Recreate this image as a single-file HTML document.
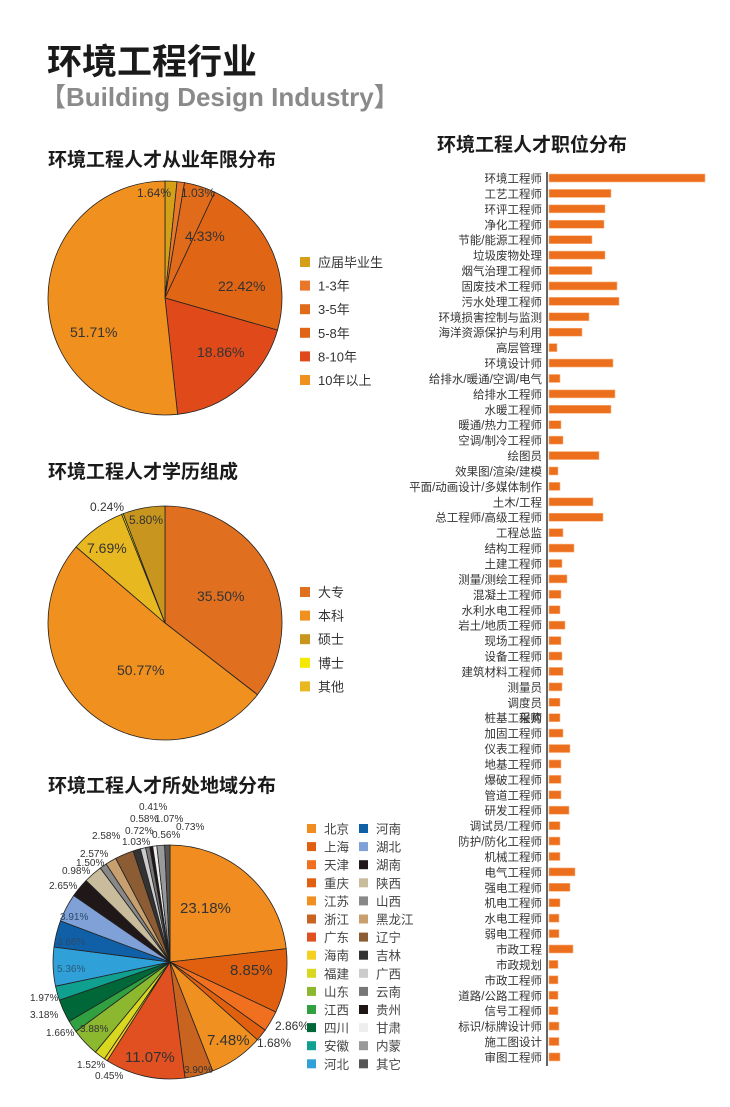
<!DOCTYPE html>
<html><head><meta charset="utf-8"><style>
body{margin:0;background:#fff;}
svg{display:block;font-family:"Liberation Sans","Noto Sans CJK SC",sans-serif;}
</style></head><body>
<svg id="s" width="730" height="1107" viewBox="0 0 730 1107" xmlns="http://www.w3.org/2000/svg">
<text x="47" y="74" font-size="35" font-weight="bold" fill="#1a1a1a">环境工程行业</text>
<text x="40" y="106" font-size="26" font-weight="bold" fill="#8a8a8a">【Building Design Industry】</text>
<text x="48" y="166" font-size="19" font-weight="bold" fill="#1a1a1a">环境工程人才从业年限分布</text>
<text x="48" y="478" font-size="19" font-weight="bold" fill="#1a1a1a">环境工程人才学历组成</text>
<text x="48" y="792" font-size="19" font-weight="bold" fill="#1a1a1a">环境工程人才所处地域分布</text>
<text x="437" y="151" font-size="19" font-weight="bold" fill="#1a1a1a">环境工程人才职位分布</text>
<line x1="547" y1="172" x2="547" y2="1066" stroke="#333" stroke-width="1.5"/>
<g id="g"></g>
</svg>
<script>
const g=document.getElementById('g');let h='';
function pie(cx,cy,r,data){let a=0;const tot=data.reduce((s,d)=>s+d[0],0);
for(const d of data){const a0=a,a1=a+d[0]/tot*2*Math.PI;a=a1;
const x0=cx+r*Math.sin(a0),y0=cy-r*Math.cos(a0),x1=cx+r*Math.sin(a1),y1=cy-r*Math.cos(a1);
h+=`<path d="M${cx},${cy}L${x0},${y0}A${r},${r} 0 ${a1-a0>Math.PI?1:0} 1 ${x1},${y1}Z" fill="${d[1]}" stroke="#222" stroke-width="0.8"/>`;}}
function t(x,y,s,fs,c,anchor){h+=`<text x="${x}" y="${y}" font-size="${fs}" fill="${c||'#333'}" ${anchor?'text-anchor="'+anchor+'"':''}>${s}</text>`;}
// pie1
pie(165,298,117,[[1.64,'#d4a017'],[1.03,'#e8772a'],[4.33,'#e06b1a'],[22.42,'#e06515'],[18.86,'#e04a1a'],[51.71,'#f0901f']]);
t(137,197,'1.64%',12);t(181,197,'1.03%',12);t(185,241,'4.33%',14);t(218,291,'22.42%',14);t(197,357,'18.86%',14);t(70,337,'51.71%',14);
[['应届毕业生','#d4a017'],['1-3年','#e8772a'],['3-5年','#e06b1a'],['5-8年','#e06515'],['8-10年','#e04a1a'],['10年以上','#f0901f']].forEach((d,i)=>{const y=257+i*23.6;h+=`<rect x="300" y="${y}" width="10" height="10" fill="${d[1]}"/>`;t(318,y+10,d[0],13);});
// pie2
pie(165,623,117,[[35.50,'#e07020'],[50.77,'#f0901f'],[7.69,'#e8b820'],[0.24,'#f5e800'],[5.80,'#c8961e']]);
t(197,601,'35.50%',14);t(117,675,'50.77%',14);t(87,553,'7.69%',14);t(90,511,'0.24%',12);t(129,524,'5.80%',12);
[['大专','#e07020'],['本科','#f0901f'],['硕士','#c8961e'],['博士','#f5e800'],['其他','#e8b820']].forEach((d,i)=>{const y=587+i*23.6;h+=`<rect x="300" y="${y}" width="10" height="10" fill="${d[1]}"/>`;t(318,y+10,d[0],13);});
// pie3
const p3=[[23.18,'#f08c20','北京'],[8.85,'#e06010','上海'],[2.86,'#f07020','天津'],[1.68,'#e06010','重庆'],[7.48,'#f09020','江苏'],[3.90,'#c86420','浙江'],[11.07,'#e05020','广东'],[0.45,'#f5d020','海南'],[1.52,'#d8d820','福建'],[3.88,'#8cb830','山东'],[1.66,'#30a040','江西'],[3.18,'#006838','四川'],[1.97,'#10a090','安徽'],[5.36,'#30a0d8','河北'],[3.66,'#1060a8','河南'],[3.91,'#80a0d8','湖北'],[2.65,'#201818','湖南'],[2.57,'#c8bc9c','陕西'],[0.98,'#888888','山西'],[1.50,'#c8a070','黑龙江'],[2.58,'#8c5c34','辽宁'],[1.03,'#333333','吉林'],[0.72,'#cccccc','广西'],[0.58,'#777777','云南'],[0.41,'#1e1614','贵州'],[0.56,'#eeeeee','甘肃'],[1.07,'#999999','内蒙'],[0.73,'#555555','其它']];
pie(170,962,117,p3);
t(180,913,'23.18%',15);t(230,975,'8.85%',15);t(275,1030,'2.86%',12);t(257,1047,'1.68%',12);t(207,1045,'7.48%',15);t(184,1073,'3.90%',10);t(125,1062,'11.07%',15);
t(77,1068,'1.52%',10);t(95,1079,'0.45%',10);t(80,1032,'3.88%',10);t(46,1036,'1.66%',10);t(30,1018,'3.18%',10);t(30,1001,'1.97%',10);
t(57,972,'5.36%',10,'#2a5a7a');t(57,945,'3.66%',10,'#2a4a6a');t(60,920,'3.91%',10,'#2a4a6a');t(49,889,'2.65%',10);
t(62,874,'0.98%',10);t(76,866,'1.50%',10);t(80,857,'2.57%',10);t(92,839,'2.58%',10);t(122,845,'1.03%',10);t(125,834,'0.72%',10);t(130,822,'0.58%',10);t(139,810,'0.41%',10);t(155,822,'1.07%',10);t(152,838,'0.56%',10);t(176,830,'0.73%',10);
p3.forEach((d,i)=>{const col=i<14?0:1,row=i%14;const y=824+row*18.1;const x=col?359:307;h+=`<rect x="${x}" y="${y}" width="9" height="9" fill="${d[1]}"/>`;t(x+17,y+9.5,d[2],12.5,'#444');});
// bars
const B=[['环境工程师',156],['工艺工程师',62],['环评工程师',56],['净化工程师',55],['节能/能源工程师',43],['垃圾废物处理',56],['烟气治理工程师',43],['固废技术工程师',68],['污水处理工程师',70],['环境损害控制与监测',40],['海洋资源保护与利用',33],['高层管理',8],['环境设计师',64],['给排水/暖通/空调/电气',11],['给排水工程师',66],['水暖工程师',62],['暖通/热力工程师',12],['空调/制冷工程师',14],['绘图员',50],['效果图/渲染/建模',9],['平面/动画设计/多媒体制作',11],['土木/工程',44],['总工程师/高级工程师',54],['工程总监',14],['结构工程师',25],['土建工程师',13],['测量/测绘工程师',18],['混凝土工程师',12],['水利水电工程师',11],['岩土/地质工程师',16],['现场工程师',12],['设备工程师',13],['建筑材料工程师',14],['测量员',13],['调度员',11],['桩基工程师',11],['加固工程师',14],['仪表工程师',21],['地基工程师',12],['爆破工程师',12],['管道工程师',12],['研发工程师',20],['调试员/工程师',11],['防护/防化工程师',11],['机械工程师',11],['电气工程师',26],['强电工程师',21],['机电工程师',11],['水电工程师',10],['弱电工程师',10],['市政工程',24],['市政规划',9],['市政工程师',9],['道路/公路工程师',9],['信号工程师',9],['标识/标牌设计师',10],['施工图设计',10],['审图工程师',11]];
B.forEach((d,i)=>{const y=178+i*15.42;h+=`<rect x="549" y="${y-4}" width="${d[1]}" height="8" fill="#ec6f1e" stroke="#f9b580" stroke-width="0.6"/>`;t(542,y+4.5,d[0],11.5,'#333','end');});
t(542,722,'采购',11.5,'#333','end');
g.innerHTML=h;
</script>
</body></html>
